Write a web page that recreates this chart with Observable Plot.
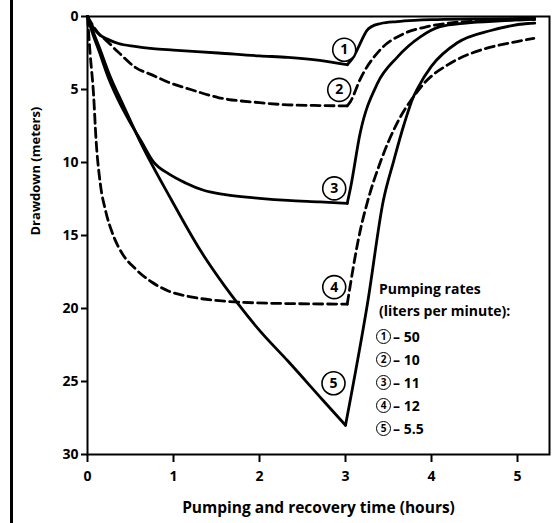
<!DOCTYPE html>
<html>
<head>
<meta charset="utf-8">
<script src="https://cdn.jsdelivr.net/npm/d3@7"></script>
<script src="https://cdn.jsdelivr.net/npm/@observablehq/plot@0.6"></script>
<style>
  html, body { margin: 0; padding: 0; background: #fff; }
  #wrap { position: relative; width: 557px; height: 523px; overflow: hidden; font-family: "Open Sans", sans-serif; font-weight: 700; color: #000; }
  #edge { position: absolute; left: 10px; top: 0; width: 3px; height: 523px; background: #000; }
  #chart { position: absolute; left: 0; top: 0; }
  #legend { position: absolute; left: 379px; top: 278px; font-size: 14px; line-height: 22px; white-space: nowrap; }
  #legend .row { height: 23px; line-height: 23px; display: flex; align-items: center; }
  #legend .circ { display: inline-block; box-sizing: border-box; width: 15px; height: 15px; border: 1.5px solid #000; border-radius: 50%; font-size: 10px; line-height: 12px; text-align: center; margin-left: -3px; margin-right: 2px; }
</style>
</head>
<body>
<div id="wrap">
  <div id="edge"></div>
  <div id="chart"></div>
  <div id="legend"></div>
</div>
<script>
// ---- data (hours, drawdown in meters) ----
const seriesLabels = ["1", "2", "3", "4", "5"];
const pumpingRates = ["50", "10", "11", "12", "5.5"];
const dashedSeries = [false, true, false, true, false];

const t1 = [0, 0.05, 0.13, 0.25, 0.36, 0.55, 0.76, 1.0, 1.52, 2.0, 2.33, 2.7, 3.02, 3.1, 3.17, 3.25, 3.3, 3.41, 3.6, 3.8, 4.0, 4.5, 5.2];
const d1 = [0, 0.6, 1.2, 1.6, 1.85, 2.05, 2.2, 2.3, 2.5, 2.7, 2.8, 3.0, 3.3, 2.7, 1.85, 0.95, 0.7, 0.48, 0.35, 0.27, 0.22, 0.17, 0.12];

const t2 = [0, 0.05, 0.15, 0.21, 0.35, 0.56, 0.75, 0.94, 1.2, 1.52, 2.0, 2.33, 2.7, 3.02, 3.06, 3.17, 3.4, 3.67, 3.95, 4.2, 4.6, 5.2];
const d2 = [0, 0.5, 1.3, 1.6, 2.4, 3.5, 4.0, 4.5, 5.0, 5.55, 5.9, 6.05, 6.1, 6.12, 5.8, 4.3, 2.3, 1.2, 0.7, 0.45, 0.3, 0.2];

const t3 = [0, 0.05, 0.13, 0.25, 0.36, 0.5, 0.63, 0.76, 0.95, 1.14, 1.35, 1.6, 2.0, 2.33, 2.7, 3.02, 3.06, 3.17, 3.37, 3.6, 3.87, 4.1, 4.4, 4.8, 5.2];
const d3 = [0, 1.0, 2.3, 4.3, 5.75, 7.3, 8.6, 9.9, 10.8, 11.4, 11.9, 12.2, 12.45, 12.6, 12.7, 12.8, 11.7, 8.0, 4.6, 2.8, 1.4, 0.7, 0.45, 0.3, 0.2];

const t4 = [0, 0.03, 0.07, 0.1, 0.15, 0.21, 0.3, 0.4, 0.56, 0.75, 0.94, 1.2, 1.6, 2.2, 3.02, 3.17, 3.26, 3.41, 3.6, 3.79, 3.91, 4.22, 4.57, 4.92, 5.19];
const d4 = [0, 2.5, 5.3, 8.5, 11.5, 13.3, 15.0, 16.2, 17.3, 18.2, 18.8, 19.2, 19.5, 19.65, 19.7, 14.7, 12.6, 9.9, 7.3, 5.5, 4.6, 3.2, 2.3, 1.8, 1.5];

const t5 = [0, 0.05, 0.13, 0.27, 0.41, 0.64, 0.97, 1.31, 1.6, 1.74, 2.0, 2.33, 2.74, 3.0, 3.26, 3.44, 3.56, 3.68, 3.79, 3.84, 4.0, 4.3, 4.69, 5.12, 5.2];
const d5 = [0, 0.8, 2.0, 4.2, 6.0, 8.9, 12.5, 16.0, 18.5, 19.6, 21.5, 23.6, 26.3, 28.0, 19.5, 12.6, 9.9, 7.4, 5.5, 4.9, 3.4, 1.8, 0.96, 0.48, 0.45];

const xTicks = [0, 1, 2, 3, 4, 5];
const yTicks = [0, 5, 10, 15, 20, 25, 30];

// ---- build rows ----
const times = [t1, t2, t3, t4, t5];
const draws = [d1, d2, d3, d4, d5];
const series = seriesLabels.map((label, i) => {
  const rows = times[i].map((t, j) => ({t, d: draws[i][j]}));
  const k = rows.reduce((best, r, j) => (r.d > rows[best].d ? j : best), 0);
  return {label, dashed: dashedSeries[i], rows, k, corner: rows[k]};
});

// label placement relative to the end-of-pumping corner (pixels)
const labelOffsets = [[-3, -15], [-8, -16], [-13, -15], [-13, -17], [-12, -42]];

const marks = [];
series.forEach((s) => {
  const opts = {x: "t", y: "d", stroke: "black", strokeWidth: 2.8,
    strokeDasharray: s.dashed ? "9,5" : null, curve: "monotone-x"};
  marks.push(Plot.line(s.rows.slice(0, s.k + 1), opts));   // pumping
  marks.push(Plot.line(s.rows.slice(s.k), opts));          // recovery
});
series.forEach((s, i) => {
  const [dx, dy] = labelOffsets[i];
  marks.push(Plot.dot([s.corner], {x: "t", y: "d", dx, dy, r: 11.5, fill: "white", stroke: "black", strokeWidth: 1.6}));
  marks.push(Plot.text([s.corner], {x: "t", y: "d", dx, dy, text: () => s.label, fontSize: 14, fontWeight: 700}));
});

const chart = Plot.plot({
  width: 557,
  height: 523,
  marginLeft: 87,
  marginRight: 8,
  marginTop: 16,
  marginBottom: 69,
  style: {fontFamily: "'Open Sans', sans-serif", fontSize: "14px", fontWeight: 700, background: "transparent", color: "#000", overflow: "visible"},
  x: {domain: [0, 5.372], label: null},
  y: {domain: [0, 30], reverse: true, label: null},
  marks: [
    Plot.axisX({ticks: xTicks, tickFormat: d => String(d), tickSize: 8, tickPadding: 9, strokeWidth: 2, label: null}),
    Plot.axisY({ticks: yTicks, tickFormat: d => String(d), tickSize: 6, tickPadding: 3, strokeWidth: 2, label: null}),
    Plot.frame({stroke: "black", strokeWidth: 2}),
    ...marks,
    Plot.text(["Drawdown (meters)"], {frameAnchor: "left", rotate: -90, dx: -52, fontSize: 13, fontWeight: 700}),
    Plot.text(["Pumping and recovery time (hours)"], {frameAnchor: "bottom", dy: 58, fontSize: 15.5, fontWeight: 700})
  ]
});
document.getElementById("chart").appendChild(chart);

// ---- legend ----
const legend = document.getElementById("legend");
legend.innerHTML = `<div>Pumping rates</div><div>(liters per minute):</div><div style="height:3px"></div>` +
  seriesLabels.map((l, i) => `<div class="row"><span class="circ">${l}</span>– ${pumpingRates[i]}</div>`).join("");
</script>
</body>
</html>
